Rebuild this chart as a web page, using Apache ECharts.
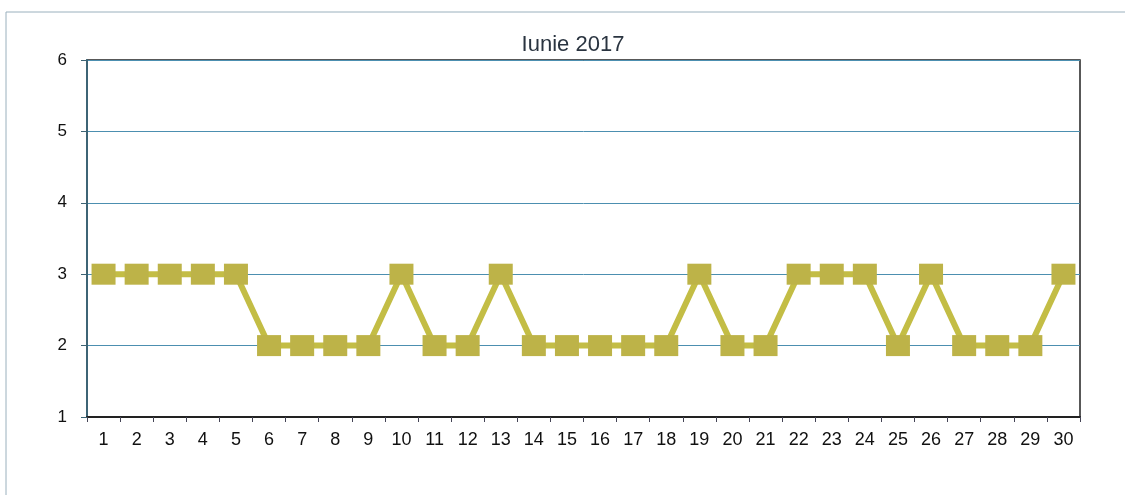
<!DOCTYPE html>
<html>
<head>
<meta charset="utf-8">
<script src="https://cdn.jsdelivr.net/npm/echarts@6/dist/echarts.min.js"></script>
<style>
	html, body { margin: 0; padding: 0; background: #fff; }
	#main { width: 1125px; height: 495px; }
</style>
</head>
<body>
<div id="main"></div>
<script>
	// zilele lunii
	const days = []
	for (let d = 1; d <= 30; d++) days.push(String(d))
	// valori
	const values = [3, 3, 3, 3, 3, 2, 2, 2, 2, 3, 2, 2, 3, 2, 2, 2, 2, 2, 3, 2, 2, 3, 3, 3, 2, 3, 2, 2, 2, 3]
	const yTicks = [1, 2, 3, 4, 5, 6]

	const chart = echarts.init(document.getElementById('main'))
	const option = {
		animation: false,
		backgroundColor: '#fff',
		title: {
			text: 'Iunie 2017',
			left: 568,
			textAlign: 'center',
			top: 29,
			textStyle: {
				fontFamily: 'Liberation Sans',
				fontSize: 22,
				fontWeight: 'normal',
				color: '#2a3440'
			}
		},
		graphic: [{
			type: 'rect',
			shape: { x: 6, y: 12, width: 1140, height: 500 },
			style: { fill: 'none', stroke: '#9ab0bd', lineWidth: 1 },
			silent: true
		}],
		grid: {
			left: 87,
			right: 45,
			top: 60,
			bottom: 78,
			show: true,
			borderColor: '#222',
			borderWidth: 1.5
		},
		xAxis: {
			type: 'category',
			data: days,
			boundaryGap: true,
			axisLine: { lineStyle: { color: '#222', width: 2 } },
			axisTick: { show: true, length: 5, lineStyle: { color: '#445' } },
			axisLabel: {
				interval: 0,
				margin: 14,
				fontFamily: 'Liberation Sans',
				fontSize: 18,
				color: '#111'
			}
		},
		yAxis: {
			type: 'value',
			min: yTicks[0],
			max: yTicks[yTicks.length - 1],
			interval: 1,
			axisLine: { show: true, lineStyle: { color: '#3d6475', width: 2 } },
			axisTick: { show: true, length: 6, lineStyle: { color: '#3d6475' } },
			splitLine: { lineStyle: { color: '#4c8fb0', width: 1 } },
			axisLabel: {
				margin: 20,
				fontFamily: 'Liberation Sans',
				fontSize: 17,
				color: '#111'
			}
		},
		series: [{
			type: 'line',
			data: values,
			symbol: 'rect',
			symbolSize: [24, 21],
			lineStyle: { color: '#c3bd45', width: 6 },
			itemStyle: { color: '#bdb348' }
		}]
	}
	chart.setOption(option)
</script>
</body>
</html>
